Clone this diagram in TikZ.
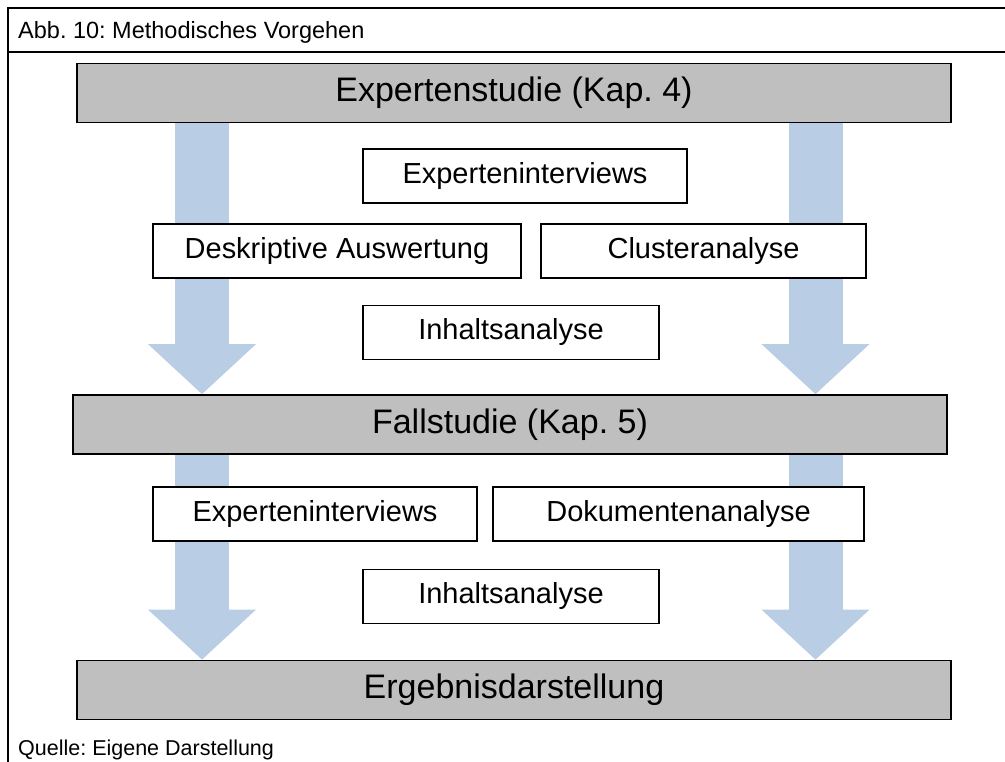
\documentclass[tikz,border=0pt]{standalone}
\usepackage{fontspec}
\setmainfont{Liberation Sans}
\usetikzlibrary{arrows.meta,positioning,backgrounds}
\frenchspacing
\definecolor{barfill}{RGB}{191,191,191}
\definecolor{flowblue}{RGB}{185,205,229}
\tikzset{
  phase/.style={draw=black, line width=1.8pt, fill=barfill, minimum width=874pt,
    minimum height=59pt, inner sep=0pt, font=\fontsize{34}{40}\selectfont},
  method/.style={draw=black, line width=1.8pt, fill=white, minimum height=54pt,
    inner sep=0pt, font=\fontsize{29}{34}\selectfont},
  flow/.style={draw=flowblue, line width=54pt,
    -{Triangle[length=50pt,width=108pt,line width=0pt]}},
  frameline/.style={draw=black, line width=1.8pt},
  caption/.style={anchor=base west, inner sep=0pt}
}

\begin{document}
\begin{tikzpicture}[x=1pt, y=-1pt]
  \useasboundingbox (0,0) rectangle (1005,762);

  % frame and captions
  \draw[frameline] (8,762) -- (8,8) -- (1005,8);
  \draw[frameline] (8,52) -- (1005,52);
  \node[caption, font=\fontsize{23.5}{28}\selectfont] (title) at (18,39) {Abb. 10: Methodisches Vorgehen};
  \node[caption, font=\fontsize{21.5}{26}\selectfont] (source) at (18,755) {Quelle: Eigene Darstellung};

  % phases
  \node[phase] (expert) at (514,93) {Expertenstudie (Kap. 4)};
  \node[phase] (fall) at (510,424.5) {Fallstudie (Kap. 5)};
  \node[phase] (result) at (514,690) {Ergebnisdarstellung};

  % methods of the expert study
  \node[method, minimum width=324pt] (interv1) at (525,176) {Experteninterviews};
  \node[method, minimum width=368pt] (descr) at (337,251) {Deskriptive Auswertung};
  \node[method, minimum width=325pt] (cluster) at (703.5,251) {Clusteranalyse};
  \node[method, minimum width=296pt] (content1) at (511,332.5) {Inhaltsanalyse};

  % methods of the case study
  \node[method, minimum width=324pt] (interv2) at (315,514) {Experteninterviews};
  \node[method, minimum width=371pt] (docs) at (678.5,514) {Dokumentenanalyse};
  \node[method, minimum width=296pt] (content2) at (511,596.5) {Inhaltsanalyse};

  % flow arrows behind the boxes
  \coordinate (colL) at (202,0);
  \coordinate (colR) at (815.5,0);
  \begin{scope}[on background layer]
    \draw[flow] (expert.south -| colL) -- (fall.north -| colL);
    \draw[flow] (expert.south -| colR) -- (fall.north -| colR);
    \draw[flow] (fall.south -| colL) -- (result.north -| colL);
    \draw[flow] (fall.south -| colR) -- (result.north -| colR);
  \end{scope}
\end{tikzpicture}
\end{document}
